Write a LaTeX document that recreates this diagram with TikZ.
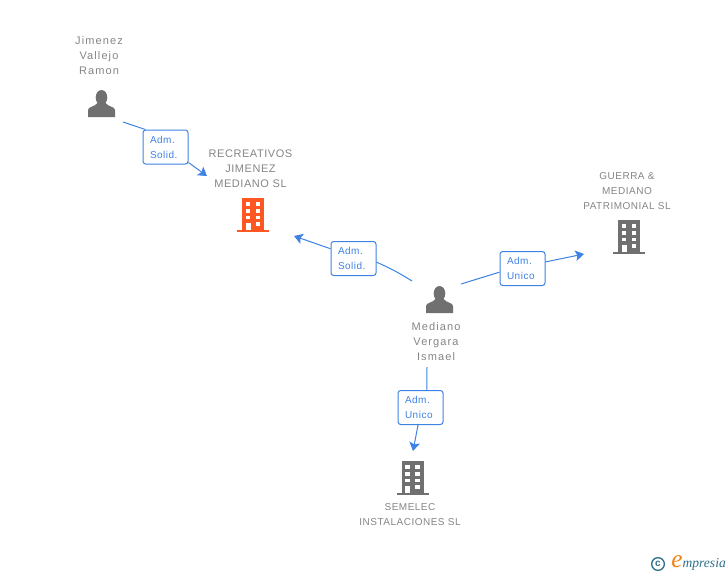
\documentclass[tikz,border=0pt]{standalone}
\usepackage{fontspec}
\setmainfont{Liberation Sans}
\newfontfamily\spacedfont[LetterSpace=5]{Liberation Sans}
\newfontfamily\widerfont[LetterSpace=10]{Liberation Sans}
\newfontfamily\logofont{Liberation Serif}
\usetikzlibrary{arrows.meta}

\definecolor{linkblue}{RGB}{62,130,228}
\definecolor{textgrey}{RGB}{133,133,133}
\definecolor{icongrey}{RGB}{112,112,112}
\definecolor{iconorange}{RGB}{255,87,34}
\definecolor{logoteal}{RGB}{46,112,140}
\definecolor{logoorange}{RGB}{240,130,20}

\tikzset{
  personicon/.pic={
    \fill [icongrey] (0,19.5) ellipse [x radius=5.8, y radius=7.5];
    \fill [icongrey] (-13.5,0) -- (-13.5,7) .. controls (-13.5,10.5) and (-7,10) .. (-4,14) -- (4,14) .. controls (7,10) and (13.5,10.5) .. (13.5,7) -- (13.5,0) -- cycle;
  },
  buildingicon/.pic={
    \fill [#1] (-11,0) rectangle (11,34);
    \fill [#1] (-16,0) rectangle (16,2);
    \foreach \wy in {26.3,19.3,12.8}
      \fill [white] (-7.3,\wy) rectangle ++(4.5,3.7);
    \foreach \wy in {26.3,19.3,12.8,6.3}
      \fill [white] (2.7,\wy) rectangle ++(4.5,3.7);
    \fill [white] (-7.3,9.3) rectangle (-2.3,2);
  },
  namelabel/.style={align=center, inner sep=0pt, text=textgrey, font=\spacedfont\fontsize{8.25}{11.25}\selectfont},
  personlabel/.style={namelabel, font=\widerfont\fontsize{8.25}{11.25}\selectfont},
  smalllabel/.style={namelabel, font=\spacedfont\fontsize{7.5}{11.25}\selectfont},
  rolebox/.style={draw=linkblue, fill=white, line width=0.75pt, rounded corners=2pt, minimum height=25.5pt, inner xsep=5.25pt, inner ysep=0pt, text width=23.25pt, align=left, text=linkblue, font=\spacedfont\fontsize{7.5}{11.25}\selectfont},
  link/.style={draw=linkblue, line width=0.75pt},
  linkarrow/.style={link, -{Stealth[length=6.5pt, width=8pt, inset=1.5pt]}},
}

\begin{document}
\begin{tikzpicture}[x=0.75pt,y=0.75pt,yscale=-1,xscale=1]
  \useasboundingbox (0,0) rectangle (728,575);

  % icons
  \pic at (101.5,117) {personicon};
  \pic at (439.5,313) {personicon};
  \pic at (253,232) {buildingicon=iconorange};
  \pic at (629,254) {buildingicon=icongrey};
  \pic at (412.5,495) {buildingicon=icongrey};

  % names
  \node [personlabel] (jimenez) at (99,56) {Jimenez\\Vallejo\\Ramon};
  \node [namelabel] (recreativos) at (250.5,169) {RECREATIVOS\\JIMENEZ\\MEDIANO SL};
  \node [smalllabel] (guerra) at (627,191) {GUERRA \&\\MEDIANO\\PATRIMONIAL SL};
  \node [personlabel] (mediano) at (436,341.5) {Mediano\\Vergara\\Ismael};
  \node [smalllabel] (semelec) at (410,514.5) {SEMELEC\\INSTALACIONES SL};

  % role boxes
  \node [rolebox] (admJimenez) at (165.5,147) {Adm.\\Solid.};
  \node [rolebox] (admRecreativos) at (353.5,258.5) {Adm.\\Solid.};
  \node [rolebox] (admGuerra) at (522.5,268.5) {Adm.\\Unico};
  \node [rolebox] (admSemelec) at (420.5,407.5) {Adm.\\Unico};

  % free ends of the links
  \coordinate (jimenezOut) at (123,122);
  \coordinate (recreativosIn) at (207,176);
  \coordinate (medianoLeft) at (412,281);
  \coordinate (recreativosRight) at (294,236);
  \coordinate (medianoRight) at (461,284);
  \coordinate (guerraIn) at (584,254);
  \coordinate (medianoDown) at (427,367);
  \coordinate (semelecIn) at (413,451);

  % links
  \draw [link] (jimenezOut) -- (admJimenez.139);
  \draw [linkarrow] (admJimenez.-34) -- (recreativosIn);
  \draw [link] (medianoLeft) to [bend left=4] (admRecreativos.-9);
  \draw [linkarrow] (admRecreativos.157) -- (recreativosRight);
  \draw [link] (medianoRight) -- (admGuerra.189);
  \draw [linkarrow] (admGuerra.16) -- (guerraIn);
  \draw [link] (medianoDown) -- (admSemelec.70);
  \draw [linkarrow] (admSemelec.-98) -- (semelecIn);

  % logo
  \node [circle, draw=logoteal, line width=1pt, minimum size=9.5pt, inner sep=0pt, text=logoteal, font=\bfseries\fontsize{7.5}{7.5}\selectfont] (logoMark) at (658,564) {c};
  \node [anchor=west, inner sep=0pt, text=logoteal, font=\logofont\itshape\fontsize{10.2}{10.2}\selectfont] (logoName) at (671,563) {{\color{logoorange}\fontsize{19}{19}\selectfont e}mpresia};
\end{tikzpicture}
\end{document}
